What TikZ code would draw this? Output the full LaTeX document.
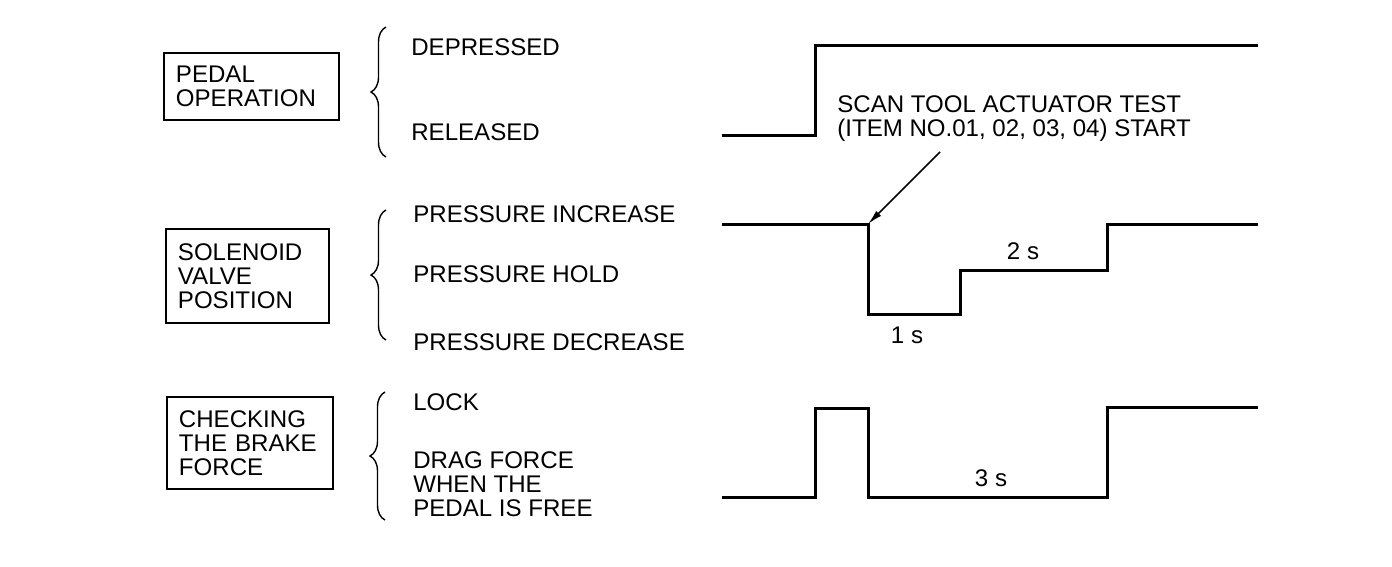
\documentclass[tikz,border=0pt]{standalone}
\usepackage{fontspec}
\setmainfont{Liberation Sans}
\usetikzlibrary{arrows.meta, decorations.pathreplacing}

\begin{document}
\begin{tikzpicture}[x=0.02cm, y=-0.02cm,
  every node/.style={font=\fontsize{13.7}{13.7}\selectfont},
  panel/.style={draw, line width=1.1pt, anchor=north west, align=left, inner xsep=0.24cm, inner ysep=0pt},
  lvltext/.style={anchor=base west, inner sep=0pt},
  wave/.style={line width=1.7pt},
  curlybr/.style={decorate, decoration={brace, amplitude=0.3cm}, line width=0.8pt}]
  \useasboundingbox (0,0) rectangle (1392,566);
  % Signal boxes
  \node[panel, text width=3.02cm, minimum height=1.34cm] (pedal) at (163,52) {PEDAL\\OPERATION};
  \node[panel, text width=2.78cm, minimum height=1.88cm] (valve) at (165,228) {SOLENOID\\VALVE\\POSITION};
  \node[panel, text width=2.84cm, minimum height=1.84cm] (brake) at (166,396) {CHECKING\\THE BRAKE\\FORCE};
  % Braces
  \draw[curlybr] (386,157) -- (386,27);
  \draw[curlybr] (386,340) -- (386,210);
  \draw[curlybr] (385,520) -- (385,392);
  % Level names
  \foreach \nm/\x/\y/\txt in {dep/411/55/DEPRESSED, rel/411/140/RELEASED, inc/413/222/PRESSURE INCREASE, hold/413/282/PRESSURE HOLD, dec/413/350/PRESSURE DECREASE, lock/413/410/LOCK} {
    \node[lvltext] (\nm) at (\x,\y) {\txt};
  }
  \node[lvltext, anchor=west, align=left] (drag) at (413,484) {DRAG FORCE\\WHEN THE\\PEDAL IS FREE};
  % Waveforms
  \draw[wave] (722,135) -- (815,135) |- (1258,45);
  \draw[wave] (722,224) -| (868,314) -| (960,270) -| (1107,224) -- (1258,224);
  \draw[wave] (722,497) -| (815,408) -| (868,497) -| (1107,407) -- (1258,407);
  % Durations
  \foreach \nm/\x/\y/\txt in {t1/907/343/1 s, t2/1023/259/2 s, t3/991/486/3 s} {
    \node[lvltext, anchor=base] (\nm) at (\x,\y) {\txt};
  }
  % Test start
  \node[lvltext, anchor=west, align=left] (scan) at (837,119) {SCAN TOOL ACTUATOR TEST\\(ITEM NO.01, 02, 03, 04) START};
  \coordinate (tail) at (940,152);
  \coordinate (trig) at (868,224);
  \draw[line width=0.9pt, -{Latex[length=0.3cm, width=0.14cm]}] (tail) -- (trig);
\end{tikzpicture}
\end{document}
